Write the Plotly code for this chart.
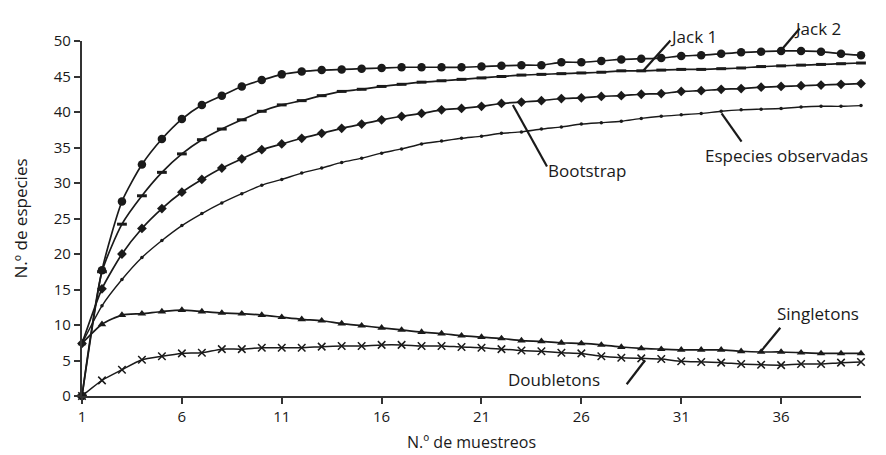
import plotly.graph_objects as go

muestreos = list(range(1, 41))

jack2 = [0.0, 17.7, 27.4, 32.6, 36.2, 39.0, 41.0, 42.3, 43.6, 44.5,
         45.3, 45.7, 45.9, 46.0, 46.1, 46.2, 46.3, 46.3, 46.3, 46.3,
         46.4, 46.5, 46.6, 46.6, 47.0, 47.0, 47.2, 47.4, 47.5, 47.6,
         47.9, 48.0, 48.2, 48.4, 48.5, 48.6, 48.6, 48.5, 48.2, 48.0]

jack1 = [0.0, 17.5, 24.2, 28.2, 31.5, 34.1, 36.1, 37.6, 38.9, 40.1,
         41.0, 41.6, 42.3, 42.9, 43.2, 43.6, 43.9, 44.2, 44.4, 44.6,
         44.8, 45.0, 45.2, 45.3, 45.4, 45.5, 45.6, 45.8, 45.8, 45.9,
         46.0, 46.0, 46.1, 46.2, 46.4, 46.5, 46.6, 46.7, 46.8, 46.9]

bootstrap = [7.4, 15.1, 20.0, 23.6, 26.4, 28.7, 30.5, 32.1, 33.4, 34.7,
             35.5, 36.3, 37.0, 37.7, 38.3, 38.9, 39.4, 39.8, 40.3, 40.5,
             40.8, 41.2, 41.4, 41.6, 41.9, 42.0, 42.2, 42.3, 42.5, 42.6,
             42.9, 43.0, 43.2, 43.3, 43.5, 43.6, 43.7, 43.8, 43.9, 44.0]

observadas = [7.4, 12.7, 16.4, 19.5, 21.9, 24.0, 25.7, 27.2, 28.5, 29.7,
              30.5, 31.4, 32.1, 32.9, 33.5, 34.2, 34.8, 35.5, 35.9, 36.3,
              36.6, 37.0, 37.2, 37.6, 37.9, 38.3, 38.5, 38.7, 39.1, 39.4,
              39.6, 39.8, 40.1, 40.3, 40.4, 40.5, 40.7, 40.8, 40.8, 40.9]

singletons = [7.4, 10.1, 11.4, 11.6, 11.9, 12.1, 11.9, 11.7, 11.6, 11.4,
              11.1, 10.8, 10.6, 10.2, 9.9, 9.6, 9.3, 9.0, 8.8, 8.5,
              8.3, 8.1, 7.8, 7.7, 7.5, 7.4, 7.2, 6.9, 6.7, 6.6,
              6.5, 6.5, 6.5, 6.3, 6.2, 6.2, 6.1, 6.0, 6.0, 6.0]

doubletons = [0.0, 2.2, 3.7, 5.1, 5.6, 6.0, 6.1, 6.6, 6.6, 6.8,
              6.8, 6.8, 6.95, 7.05, 7.05, 7.2, 7.2, 7.05, 7.05, 6.9,
              6.8, 6.6, 6.4, 6.3, 6.1, 6.0, 5.6, 5.4, 5.3, 5.2,
              4.9, 4.8, 4.7, 4.5, 4.4, 4.35, 4.5, 4.5, 4.7, 4.8]

x_ticks = [1, 6, 11, 16, 21, 26, 31, 36]
y_ticks = [0, 5, 10, 15, 20, 25, 30, 35, 40, 45, 50]
Y_MAX = 50

FONT = "Open Sans"
INK = "#1a1a1a"

fig = go.Figure()

def add(y, symbol, size, lw=0, width=1.7):
    fig.add_trace(go.Scatter(
        x=muestreos, y=y, mode="lines+markers",
        line=dict(color=INK, width=width, shape="spline", smoothing=0.6),
        marker=dict(symbol=symbol, size=size, color=INK,
                    line=dict(color=INK, width=lw)),
        cliponaxis=False, showlegend=False, hoverinfo="x+y"))

add(observadas, "circle", 3.5, width=1.4)
add(bootstrap, "diamond", 7.5)
add(jack1, "line-ew", 7, lw=3)
add(jack2, "circle", 8.5)
add(singletons, "triangle-up", 7.5)
add(doubletons, "x-thin", 7.5, lw=1.5, width=1.5)

# labels with leader lines: (text, label x, label y, line x0, y0, x1, y1)
labels = [
    ("Jack 1", 30.4, 50.6, 30.46, 50.07, 29.11, 45.86),
    ("Jack 2", 36.6, 51.8, 36.93, 51.76, 35.98, 48.62),
    ("Bootstrap", 24.3, 31.7, 24.28, 32.33, 22.57, 40.98),
    ("Especies observadas", 32.15, 33.9, 34.02, 35.84, 33.02, 39.82),
    ("Singletons", 35.75, 11.6, 35.96, 9.62, 34.98, 6.25),
    ("Doubletons", 22.3, 2.36, 28.27, 1.66, 29.19, 5.03),
]
for text, tx, ty, x0, y0, x1, y1 in labels:
    fig.add_annotation(x=tx, y=ty / Y_MAX, xref="x", yref="paper",
                       text=text, showarrow=False,
                       xanchor="left", yanchor="middle", borderpad=0,
                       font=dict(family=FONT, size=17, color=INK))
    fig.add_shape(type="line", xref="x", yref="paper",
                  x0=x0, y0=y0 / Y_MAX, x1=x1, y1=y1 / Y_MAX,
                  line=dict(color=INK, width=2.2))

axis_common = dict(showgrid=False, zeroline=False, showline=True,
                   linecolor="#333333", linewidth=2.2,
                   ticks="outside", ticklen=6, tickwidth=2,
                   tickcolor="#333333",
                   tickfont=dict(family=FONT, size=15, color=INK))

fig.update_xaxes(range=[1, 40], tickvals=x_ticks,
                 title=dict(text="N.º de muestreos",
                            font=dict(family=FONT, size=16, color=INK),
                            standoff=12),
                 **axis_common)
fig.update_yaxes(range=[0, Y_MAX], tickvals=y_ticks,
                 title=dict(text="N.º de especies",
                            font=dict(family=FONT, size=17, color=INK),
                            standoff=22),
                 **axis_common)

fig.update_layout(width=886, height=455,
                  margin=dict(l=72, r=33, t=33, b=67),
                  plot_bgcolor="white", paper_bgcolor="white")

fig.write_html("out.html")
